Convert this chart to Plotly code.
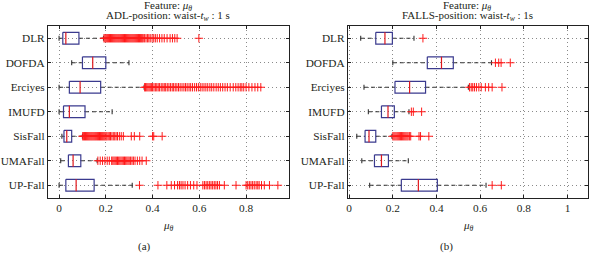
import plotly.graph_objects as go

W, H = 590, 253

categories = ["DLR", "DOFDA", "Erciyes", "IMUFD", "SisFall", "UMAFall", "UP-Fall"]

# ADL panel (a): lower whisker, Q1, median, Q3, upper whisker
adl_lo = [0.0, 0.054, 0.0, 0.0, 0.012, 0.007, 0.0]
adl_q1 = [0.016, 0.100, 0.044, 0.019, 0.021, 0.040, 0.029]
adl_med = [0.029, 0.144, 0.090, 0.044, 0.033, 0.060, 0.073]
adl_q3 = [0.085, 0.200, 0.178, 0.111, 0.054, 0.093, 0.150]
adl_hi = [0.190, 0.299, 0.364, 0.227, 0.100, 0.163, 0.313]

adl_out_dlr = [0.192, 0.196, 0.200, 0.204, 0.208, 0.212, 0.216, 0.220, 0.224, 0.228, 0.232,
               0.236, 0.240, 0.244, 0.248, 0.252, 0.256, 0.260, 0.264, 0.268, 0.272, 0.276,
               0.280, 0.284, 0.288, 0.292, 0.296, 0.300, 0.304, 0.308, 0.312, 0.316, 0.320,
               0.324, 0.328, 0.332, 0.336, 0.340, 0.344, 0.348, 0.352, 0.356, 0.360, 0.366,
               0.372, 0.378, 0.384, 0.390, 0.398, 0.405, 0.412, 0.420, 0.430, 0.440, 0.450,
               0.462, 0.475, 0.485, 0.495, 0.505, 0.598]
adl_out_dofda = []
adl_out_erciyes = [0.366, 0.370, 0.375, 0.380, 0.385, 0.390, 0.395, 0.400, 0.406, 0.412, 0.418,
                   0.424, 0.430, 0.437, 0.444, 0.450, 0.456, 0.463, 0.470, 0.477, 0.484, 0.490,
                   0.497, 0.504, 0.511, 0.518, 0.526, 0.534, 0.541, 0.548, 0.556, 0.563, 0.571,
                   0.580, 0.588, 0.596, 0.604, 0.612, 0.620, 0.628, 0.636, 0.645, 0.653, 0.662,
                   0.672, 0.681, 0.690, 0.700, 0.710, 0.720, 0.732, 0.745, 0.756, 0.766, 0.775,
                   0.782, 0.790, 0.800, 0.812, 0.825, 0.838, 0.850, 0.863]
adl_out_imufd = []
adl_out_sisfall = [0.101, 0.105, 0.109, 0.113, 0.117, 0.121, 0.125, 0.129, 0.133, 0.137, 0.141,
                   0.145, 0.149, 0.153, 0.157, 0.161, 0.165, 0.169, 0.173, 0.177, 0.181, 0.185,
                   0.189, 0.193, 0.197, 0.201, 0.205, 0.210, 0.215, 0.220, 0.226, 0.232, 0.238,
                   0.244, 0.250, 0.258, 0.266, 0.275, 0.309, 0.322, 0.345, 0.400, 0.405, 0.441]
adl_out_umafall = [0.166, 0.176, 0.186, 0.196, 0.206, 0.215, 0.225, 0.230, 0.235, 0.240, 0.245,
                   0.250, 0.255, 0.260, 0.265, 0.270, 0.275, 0.280, 0.285, 0.290, 0.295, 0.300,
                   0.306, 0.312, 0.318, 0.325, 0.335, 0.345, 0.355, 0.373]
adl_out_upfall = [0.344, 0.423, 0.461, 0.480, 0.494, 0.507, 0.515, 0.522, 0.530, 0.539, 0.550,
                  0.562, 0.576, 0.590, 0.615, 0.622, 0.629, 0.636, 0.643, 0.650, 0.657, 0.664,
                  0.671, 0.678, 0.686, 0.707, 0.757, 0.800, 0.807, 0.814, 0.821, 0.828, 0.835,
                  0.843, 0.850, 0.856, 0.866, 0.878, 0.900, 0.936]

# FALLS panel (b)
fall_lo = [0.053, 0.200, 0.068, 0.088, 0.035, 0.058, 0.094]
fall_q1 = [0.122, 0.358, 0.210, 0.148, 0.073, 0.116, 0.239]
fall_med = [0.164, 0.423, 0.277, 0.178, 0.091, 0.148, 0.317]
fall_q3 = [0.198, 0.477, 0.350, 0.207, 0.122, 0.180, 0.404]
fall_hi = [0.297, 0.652, 0.546, 0.274, 0.196, 0.271, 0.627]

fall_out_dlr = [0.338]
fall_out_dofda = [0.670, 0.685, 0.696, 0.738]
fall_out_erciyes = [0.551, 0.559, 0.566, 0.574, 0.583, 0.594, 0.605, 0.624, 0.639, 0.655, 0.700]
fall_out_imufd = [0.285, 0.294, 0.332]
fall_out_sisfall = [0.200, 0.205, 0.210, 0.215, 0.220, 0.225, 0.230, 0.235, 0.240, 0.245, 0.250,
                    0.255, 0.260, 0.265, 0.270, 0.276, 0.282, 0.320, 0.327, 0.365]
fall_out_umafall = []
fall_out_upfall = [0.655, 0.697]

adl_outliers = [adl_out_dlr, adl_out_dofda, adl_out_erciyes, adl_out_imufd,
                adl_out_sisfall, adl_out_umafall, adl_out_upfall]
fall_outliers = [fall_out_dlr, fall_out_dofda, fall_out_erciyes, fall_out_imufd,
                 fall_out_sisfall, fall_out_umafall, fall_out_upfall]

BOX_HALF = 0.24
CAP_HALF = 0.10
FONT = "Liberation Serif, Times New Roman, DejaVu Serif, serif"
TXT_C = "#231f20"
BOX_C = "#3a3a8e"
MED_C = "#e0161b"
OUT_C = "#ff1a1a"
WHISK_C = "#333333"


def px_x(p):
    return p / W


def px_y(p):
    return 1 - p / H


fig = go.Figure()


def add_panel(lo, q1, med, q3, hi, outliers, xa, ya):
    wx, wy, cx, cy, bx, by, mx, my, ox, oy = [], [], [], [], [], [], [], [], [], []
    for i in range(len(categories)):
        wx += [lo[i], q1[i], None, q3[i], hi[i], None]
        wy += [i, i, None, i, i, None]
        cx += [lo[i], lo[i], None, hi[i], hi[i], None]
        cy += [i - CAP_HALF, i + CAP_HALF, None, i - CAP_HALF, i + CAP_HALF, None]
        bx += [q1[i], q3[i], q3[i], q1[i], q1[i], None]
        by += [i - BOX_HALF, i - BOX_HALF, i + BOX_HALF, i + BOX_HALF, i - BOX_HALF, None]
        mx += [med[i], med[i], None]
        my += [i - BOX_HALF, i + BOX_HALF, None]
        ox += list(outliers[i])
        oy += [i] * len(outliers[i])
    common = dict(xaxis=xa, yaxis=ya, showlegend=False, hoverinfo="skip")
    fig.add_trace(go.Scatter(x=wx, y=wy, mode="lines",
                             line=dict(color=WHISK_C, width=1.1, dash="4px,3px"), **common))
    fig.add_trace(go.Scatter(x=cx, y=cy, mode="lines",
                             line=dict(color=WHISK_C, width=1.1), **common))
    fig.add_trace(go.Scatter(x=bx, y=by, mode="lines",
                             line=dict(color=BOX_C, width=1.2), **common))
    fig.add_trace(go.Scatter(x=mx, y=my, mode="lines",
                             line=dict(color=MED_C, width=1.2), **common))
    fig.add_trace(go.Scatter(x=ox, y=oy, mode="markers",
                             marker=dict(symbol="cross-thin", size=6,
                                         line=dict(color=OUT_C, width=1)), **common))


add_panel(adl_lo, adl_q1, adl_med, adl_q3, adl_hi, adl_outliers, "x", "y")
add_panel(fall_lo, fall_q1, fall_med, fall_q3, fall_hi, fall_outliers, "x2", "y2")

axis_common = dict(
    showline=True, linecolor="#222222", linewidth=1, mirror="ticks",
    ticks="inside", ticklen=3, tickcolor="#222222",
    showgrid=True, gridcolor="#8a8a8a", gridwidth=1, griddash="1px,3px",
    zeroline=False, tickfont=dict(family=FONT, size=11.3, color=TXT_C),
)

top_y = px_y(26)
bot_y = px_y(197.5)

fig.update_layout(
    width=W, height=H,
    margin=dict(l=0, r=0, t=0, b=0),
    paper_bgcolor="white", plot_bgcolor="white",
    font=dict(family=FONT, size=11, color=TXT_C),
    xaxis=dict(domain=[px_x(46), px_x(288.3)], range=[-0.048, 0.985], anchor="y",
               tickvals=[0, 0.2, 0.4, 0.6, 0.8], ticktext=["0", "0.2", "0.4", "0.6", "0.8"],
               **axis_common),
    yaxis=dict(domain=[bot_y, top_y], range=[6.5, -0.5], anchor="x",
               tickvals=list(range(len(categories))), ticktext=categories, **axis_common),
    xaxis2=dict(domain=[px_x(347), px_x(588)], range=[-0.006, 1.094], anchor="y2",
                tickvals=[0, 0.2, 0.4, 0.6, 0.8, 1], ticktext=["0", "0.2", "0.4", "0.6", "0.8", "1"],
                **axis_common),
    yaxis2=dict(domain=[bot_y, top_y], range=[6.5, -0.5], anchor="x2",
                tickvals=list(range(len(categories))), ticktext=categories, **axis_common),
)

ann = []


def txt(text, x, y, size=11):
    ann.append(dict(text=text, x=px_x(x), y=px_y(y), xref="paper", yref="paper",
                    xanchor="center", yanchor="middle", showarrow=False,
                    font=dict(family=FONT, size=size, color=TXT_C)))


txt("Feature: <i>μ<sub>θ</sub></i>", 167, 6)
txt("ADL-position: waist-<i>t<sub>w</sub></i> : 1 s", 167, 16.5)
txt("Feature: <i>μ<sub>θ</sub></i>", 467, 6)
txt("FALLS-position: waist-<i>t<sub>w</sub></i> : 1s", 467, 16.5)
txt("<i>μ<sub>θ</sub></i>", 167, 226)
txt("<i>μ<sub>θ</sub></i>", 468, 226)
txt("(a)", 143, 246)
txt("(b)", 446, 246)
fig.update_layout(annotations=ann)

fig.write_html(
    "out.html",
    config={"displayModeBar": False},
    post_script="document.body.style.margin='0';document.body.style.overflow='hidden';",
)
